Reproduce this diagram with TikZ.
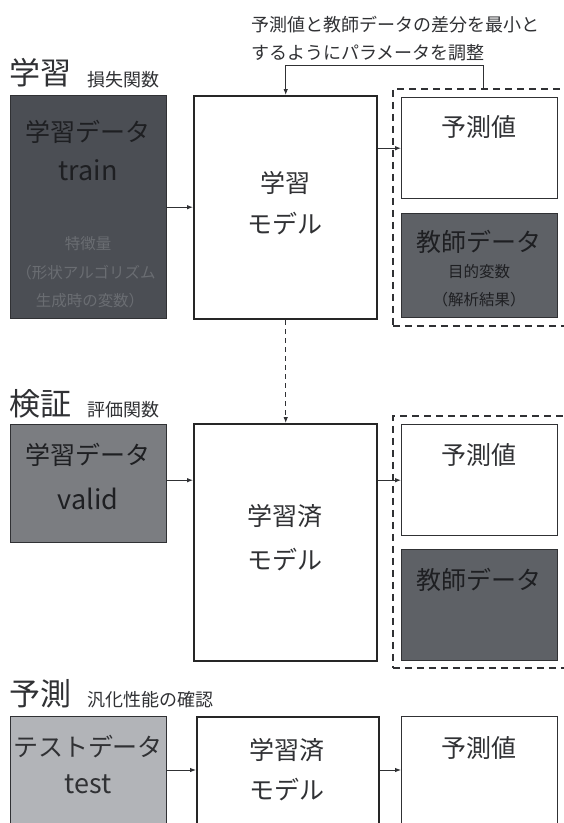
\documentclass[tikz,border=0pt]{standalone}
\usepackage{fontspec}
\setmainfont{Noto Sans CJK JP}
\usetikzlibrary{arrows.meta}
\definecolor{ink}{HTML}{303134}
\definecolor{inkdark}{HTML}{1E1F22}
\definecolor{fdark}{HTML}{4B4E54}
\definecolor{fteach}{HTML}{5E6166}
\definecolor{fmid}{HTML}{7B7D81}
\definecolor{flight}{HTML}{B2B4B8}
\definecolor{smallgray}{HTML}{6A6D72}
\tikzset{
  x=1pt, y=-1pt,
  box/.style={draw=ink, line width=1.4pt, anchor=north west, inner sep=0pt},
  modelbox/.style={draw=black!85, line width=2.4pt, anchor=north west, inner sep=0pt, fill=white},
  dbox/.style={draw=ink, line width=1.8pt, dash pattern=on 7pt off 5pt, anchor=north west, inner sep=0pt},
  arr/.style={draw=ink, line width=0.9pt, -{Latex[length=6pt,width=4.5pt]}},
  big/.style={text=ink, inner sep=0pt, font=\fontsize{25}{30}\selectfont},
  lat/.style={text=ink, inner sep=0pt, font=\fontsize{27}{32}\selectfont},
  small/.style={text=ink, inner sep=0pt, font=\fontsize{15.5}{18}\selectfont},
  title/.style={text=ink, inner sep=0pt, font=\fontsize{31}{36}\selectfont},
  sub/.style={text=ink, inner sep=0pt, font=\fontsize{18}{22}\selectfont},
  ondark/.style={text=inkdark},
}
\begin{document}
\begin{tikzpicture}
\useasboundingbox[fill=white] (0,0) rectangle (563,823);
% top note
\node[sub, anchor=west] (note1) at (251,25) {予測値と教師データの差分を最小と};
\node[sub, anchor=west] (note2) at (251,53) {するようにパラメータを調整};
% ===== section 1 =====
\node[title, anchor=west] (t1) at (9,72.5) {学習};
\node[sub, anchor=west] (s1) at (87,80) {損失関数};
\node[box, fill=fdark, minimum width=156pt, minimum height=223pt] (d1) at (10,95) {};
\node[big, ondark] (d1a) at (88,132) {学習データ};
\node[lat, ondark] (d1b) at (88,170) {train};
\node[small, text=smallgray] (d1c) at (88,244) {特徴量};
\node[small, text=smallgray] (d1d) at (86,273) {（形状アルゴリズム};
\node[small, text=smallgray] (d1e) at (90,301) {生成時の変数）};
\node[modelbox, minimum width=183pt, minimum height=223pt] (m1) at (193,95) {};
\node[big] (m1a) at (285,183) {学習};
\node[big] (m1b) at (285,224) {モデル};
\node[dbox, minimum width=175pt, minimum height=237pt] (g1) at (392,88) {};
\node[box, fill=white, minimum width=156pt, minimum height=101pt] (p1) at (401,97) {};
\node[big] (p1a) at (479,127) {予測値};
\node[box, fill=fteach, minimum width=156pt, minimum height=104pt] (e1) at (401,213) {};
\node[big, ondark] (e1a) at (479,242) {教師データ};
\node[small, ondark] (e1b) at (479,272) {目的変数};
\node[small, ondark] (e1c) at (479,300) {（解析結果）};
\draw[arr] (d1.east) -- (m1.west |- d1.east);
\draw[arr] (m1.east |- p1.west) -- (p1.west);
\coordinate (fb) at (483,65);
\draw[arr] (g1.north -| fb) -- (fb) -- (fb -| m1.north) -- (m1.north);
% ===== section 2 =====
\node[title, anchor=west] (t2) at (9,404) {検証};
\node[sub, anchor=west] (s2) at (87,410) {評価関数};
\node[box, fill=fmid, minimum width=156pt, minimum height=118pt] (d2) at (10,424) {};
\node[big, ondark] (d2a) at (88,455) {学習データ};
\node[lat, ondark] (d2b) at (88,499) {valid};
\node[modelbox, minimum width=183pt, minimum height=237pt] (m2) at (193,423) {};
\node[big] (m2a) at (285,516) {学習済};
\node[big] (m2b) at (285,560) {モデル};
\node[dbox, minimum width=175pt, minimum height=252pt] (g2) at (392,415) {};
\node[box, fill=white, minimum width=156pt, minimum height=111pt] (p2) at (401,424) {};
\node[big] (p2a) at (479,455) {予測値};
\node[box, fill=fteach, minimum width=156pt, minimum height=111pt] (e2) at (401,549) {};
\node[big, ondark] (e2a) at (479,580) {教師データ};
\draw[arr, dashed, dash pattern=on 5pt off 4pt] (m1.south) -- (m2.north);
\draw[arr] (d2.east |- p2.west) -- (m2.west |- p2.west);
\draw[arr] (m2.east |- p2.west) -- (p2.west);
% ===== section 3 =====
\node[title, anchor=west] (t3) at (9,694) {予測};
\node[sub, anchor=west] (s3) at (87,700) {汎化性能の確認};
\node[box, fill=flight, minimum width=156pt, minimum height=120pt] (d3) at (10,716) {};
\node[big] (d3a) at (88,747) {テストデータ};
\node[lat] (d3b) at (88,784) {test};
\node[modelbox, minimum width=182pt, minimum height=120pt] (m3) at (196,716) {};
\node[big] (m3a) at (287,750) {学習済};
\node[big] (m3b) at (287,790) {モデル};
\node[box, fill=white, minimum width=156pt, minimum height=120pt] (p3) at (401,716) {};
\node[big] (p3a) at (479,748) {予測値};
\coordinate (r3) at (0,770);
\draw[arr] (d3.east |- r3) -- (m3.west |- r3);
\draw[arr] (m3.east |- r3) -- (p3.west |- r3);
\end{tikzpicture}
\end{document}
